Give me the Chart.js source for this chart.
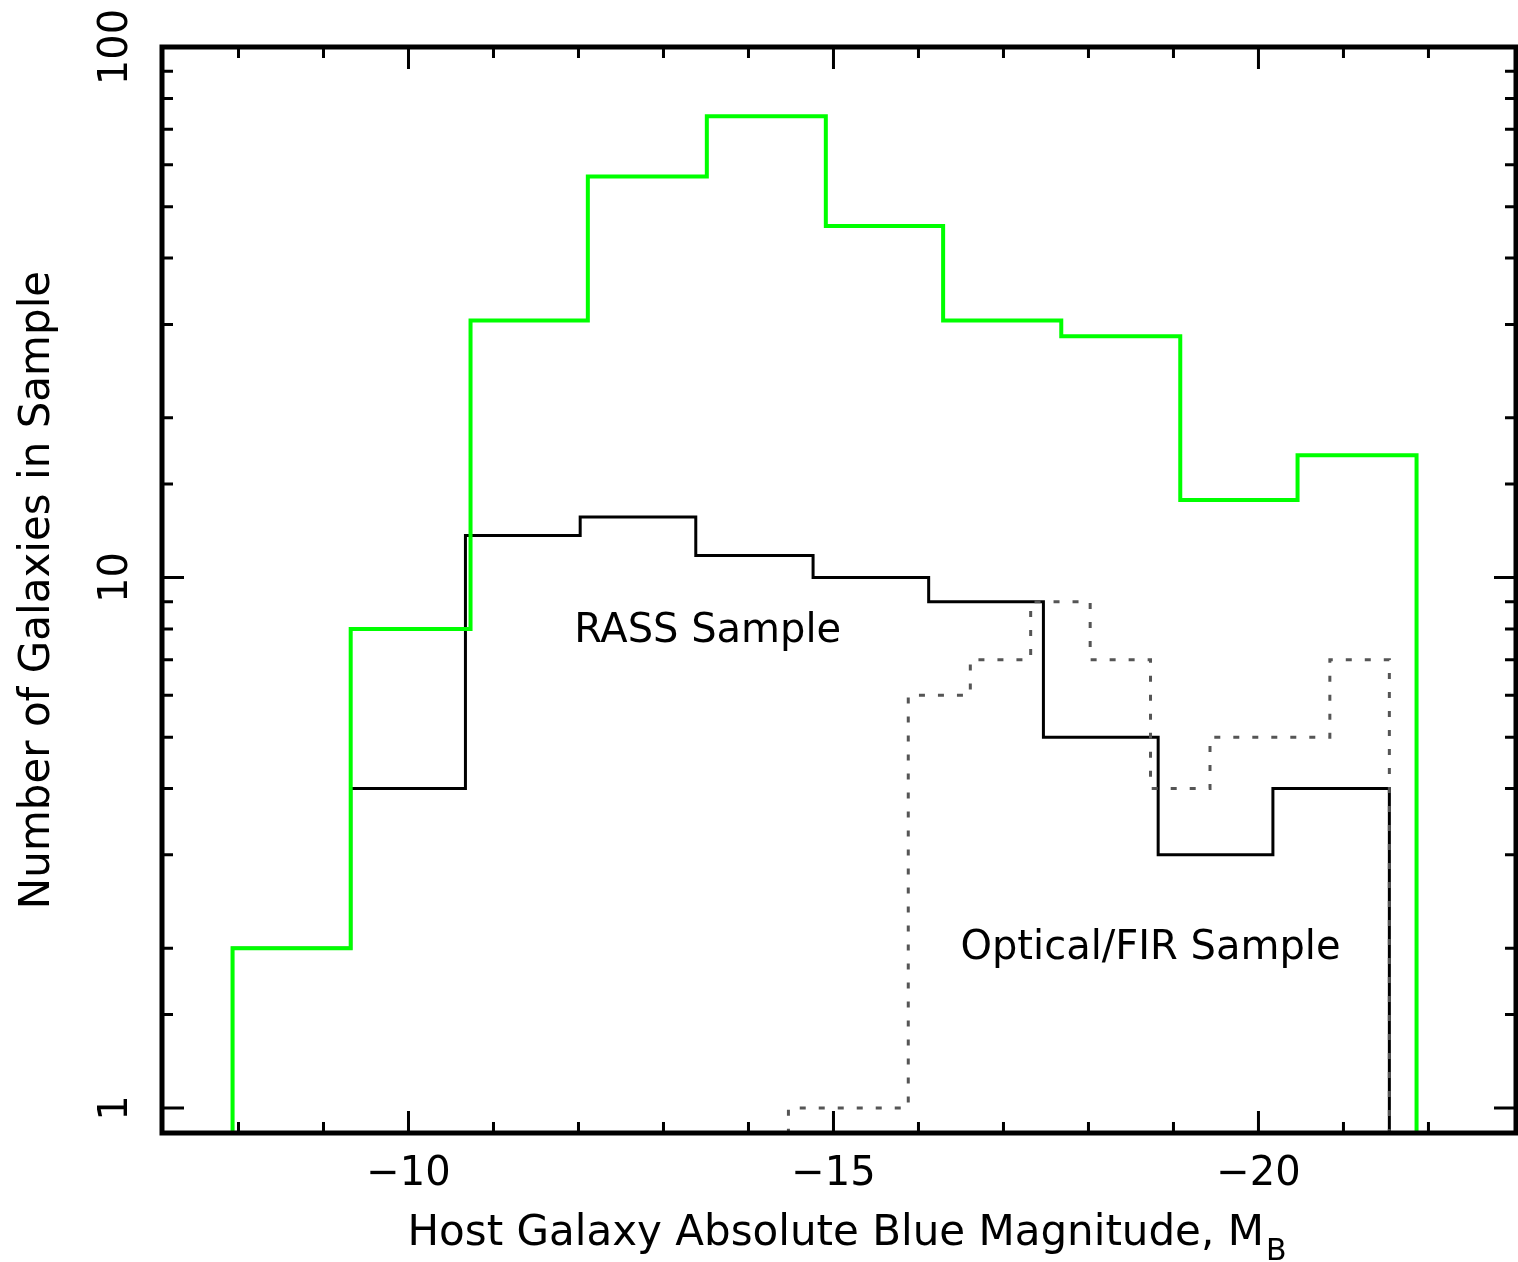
<!DOCTYPE html>
<html>
<head>
<meta charset="utf-8">
<title>Host galaxy magnitudes</title>
<script src="https://cdn.jsdelivr.net/npm/chart.js@4.4.1/dist/chart.umd.min.js"></script>
<style>
  html, body { margin: 0; padding: 0; background: #fff; overflow: hidden; }
  #wrap { width: 1518px; height: 1262px; position: relative; }
</style>
</head>
<body>
<div id="wrap"><canvas id="magChart"></canvas></div>
<script>
// bin edges (magnitudes) and counts
const allEdges = [-7.93, -9.32, -10.73, -12.11, -13.51, -14.91, -16.29, -17.68, -19.08, -20.46, -21.86];
const allCounts = [2, 8, 30.5, 57, 74, 46, 30.5, 28.5, 14, 17];

const rassEdges = [-7.93, -9.32, -10.67, -12.02, -13.38, -14.76, -16.12, -17.47, -18.82, -20.17, -21.54];
const rassCounts = [2, 4, 12, 13, 11, 10, 9, 5, 3, 4];

const firEdges = [-14.47, -15.88, -16.61, -17.32, -18.02, -18.73, -19.43, -20.13, -20.84, -21.54];
const firCounts = [1, 6, 7, 9, 7, 4, 5, 5, 7];

const xRange = [-23.03, -7.1];
const yRange = [0.897, 100];
const yLabelValues = [1, 10, 100];

const FLOOR = 0.5; // below the axis, lines get clipped

function histPoints(edges, counts) {
  const pts = [{x: edges[0], y: FLOOR}];
  counts.forEach((c, i) => pts.push({x: edges[i], y: c}));
  pts.push({x: edges[edges.length - 1], y: FLOOR});
  return pts;
}

const FONT = 'DejaVu Sans';

const frameAndText = {
  id: 'frameAndText',
  afterDraw(chart) {
    const ctx = chart.ctx;
    const a = chart.chartArea;
    const xs = chart.scales.x, ys = chart.scales.y;
    ctx.save();
    ctx.strokeStyle = '#000';
    ctx.fillStyle = '#000';

    // inward tick marks on all four sides
    ctx.lineWidth = 3;
    ctx.beginPath();
    xs.ticks.forEach(t => {
      const px = xs.getPixelForValue(t.value);
      if (px < a.left + 3 || px > a.right - 3) return;
      const len = t.value % 5 === 0 ? 22 : 11;
      ctx.moveTo(px, a.bottom); ctx.lineTo(px, a.bottom - len);
      ctx.moveTo(px, a.top); ctx.lineTo(px, a.top + len);
    });
    ys.ticks.forEach(t => {
      if (t.value < 1 || t.value > 100) return;
      const py = ys.getPixelForValue(t.value);
      const major = Math.abs(Math.log10(t.value) - Math.round(Math.log10(t.value))) < 1e-9;
      const len = major ? 22 : 11;
      ctx.moveTo(a.left, py); ctx.lineTo(a.left + len, py);
      ctx.moveTo(a.right, py); ctx.lineTo(a.right - len, py);
    });
    ctx.stroke();

    // frame
    ctx.lineWidth = 5;
    ctx.strokeRect(a.left, a.top, a.right - a.left, a.bottom - a.top);

    // y tick labels, rotated
    ctx.font = '40px "' + FONT + '"';
    ctx.textAlign = 'center';
    ctx.textBaseline = 'middle';
    yLabelValues.forEach(v => {
      const py = ys.getPixelForValue(v);
      ctx.save();
      ctx.translate(117, py);
      ctx.rotate(-Math.PI / 2);
      ctx.fillText(String(v), 0, 0);
      ctx.restore();
    });

    // y title
    ctx.save();
    ctx.font = '42px "' + FONT + '"';
    ctx.translate(38, 590);
    ctx.rotate(-Math.PI / 2);
    ctx.fillText('Number of Galaxies in Sample', 0, 0);
    ctx.restore();

    // x title with subscript
    const main = 'Host Galaxy Absolute Blue Magnitude, M';
    ctx.font = '42px "' + FONT + '"';
    const wMain = ctx.measureText(main).width;
    ctx.font = '30px "' + FONT + '"';
    const wSub = ctx.measureText('B').width;
    const x0 = 846 - (wMain + wSub) / 2;
    ctx.textAlign = 'left';
    ctx.textBaseline = 'alphabetic';
    ctx.font = '42px "' + FONT + '"';
    ctx.fillText(main, x0, 1245);
    ctx.font = '30px "' + FONT + '"';
    ctx.fillText('B', x0 + wMain + 2, 1260);

    // sample labels placed in data coordinates
    ctx.font = '40px "' + FONT + '"';
    ctx.textAlign = 'center';
    ctx.textBaseline = 'middle';
    ctx.fillText('RASS Sample', xs.getPixelForValue(-13.52), ys.getPixelForValue(7.9));
    ctx.fillText('Optical/FIR Sample', xs.getPixelForValue(-18.73), ys.getPixelForValue(2.0));
    ctx.restore();
  }
};

const ctx = document.getElementById('magChart').getContext('2d');
const magChart = new Chart(ctx, {
  type: 'line',
  data: {
    datasets: [
      {
        label: 'All',
        data: histPoints(allEdges, allCounts),
        borderColor: '#00ff00',
        borderWidth: 4,
        stepped: true,
        pointRadius: 0,
        fill: false
      },
      {
        label: 'Optical/FIR Sample',
        data: histPoints(firEdges, firCounts),
        borderColor: '#555555',
        borderWidth: 3,
        borderDash: [6, 13],
        stepped: true,
        pointRadius: 0,
        fill: false
      },
      {
        label: 'RASS Sample',
        data: histPoints(rassEdges, rassCounts),
        borderColor: '#000000',
        borderWidth: 3,
        stepped: true,
        pointRadius: 0,
        fill: false
      }
    ]
  },
  options: {
    responsive: true,
    maintainAspectRatio: false,
    animation: false,
    layout: { padding: { top: 47, right: 2, left: 0, bottom: 0 } },
    plugins: {
      legend: { display: false },
      tooltip: { enabled: false }
    },
    scales: {
      x: {
        type: 'linear',
        reverse: true,
        min: xRange[0],
        max: xRange[1],
        grid: { display: false, drawTicks: false },
        border: { display: false },
        ticks: {
          stepSize: 1,
          autoSkip: false,
          includeBounds: false,
          maxRotation: 0,
          padding: 18,
          color: '#000',
          font: { family: FONT, size: 40 },
          callback: v => (v % 5 === 0 ? '\u2212' + Math.abs(v) : '')
        },
        afterFit: s => { s.height = 129; s.paddingLeft = 0; s.paddingRight = 0; }
      },
      y: {
        type: 'logarithmic',
        min: yRange[0],
        max: yRange[1],
        grid: { display: false, drawTicks: false },
        border: { display: false },
        ticks: { display: false },
        afterFit: s => { s.width = 162; s.paddingTop = 0; s.paddingBottom = 0; }
      }
    }
  },
  plugins: [frameAndText]
});
</script>
</body>
</html>
